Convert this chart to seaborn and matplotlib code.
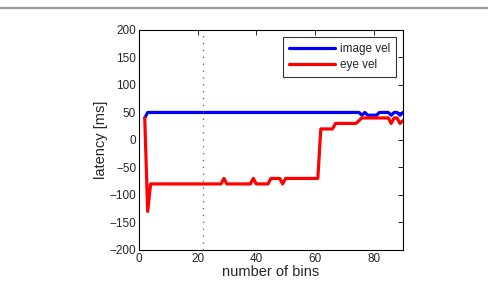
import numpy as np
import pandas as pd
import matplotlib
matplotlib.use('Agg')
import matplotlib.pyplot as plt
from matplotlib.lines import Line2D
import seaborn as sns

# Bin counts on the x axis
bins = list(range(2, 91))

# Latency of image velocity (ms)
image_vel = [40, 50, 50, 50, 50, 50, 50, 50, 50, 50,
             50, 50, 50, 50, 50, 50, 50, 50, 50, 50,
             50, 50, 50, 50, 50, 50, 50, 50, 50, 50,
             50, 50, 50, 50, 50, 50, 50, 50, 50, 50,
             50, 50, 50, 50, 50, 50, 50, 50, 50, 50,
             50, 50, 50, 50, 50, 50, 50, 50, 50, 50,
             50, 50, 50, 50, 50, 50, 50, 50, 50, 50,
             50, 50, 50, 50, 45, 50, 45, 45, 45, 45,
             50, 50, 50, 50, 45, 50, 50, 45, 50]

# Latency of eye velocity (ms)
eye_vel = [40, -130, -80, -80, -80, -80, -80, -80, -80, -80,
           -80, -80, -80, -80, -80, -80, -80, -80, -80, -80,
           -80, -80, -80, -80, -80, -80, -80, -70, -80, -80,
           -80, -80, -80, -80, -80, -80, -80, -70, -80, -80,
           -80, -80, -80, -70, -70, -70, -70, -80, -70, -70,
           -70, -70, -70, -70, -70, -70, -70, -70, -70, -70,
           20, 20, 20, 20, 20, 30, 30, 30, 30, 30,
           30, 30, 30, 35, 40, 40, 40, 40, 40, 40,
           40, 40, 40, 40, 30, 40, 40, 30, 35]

marker_bin = 22

df = pd.DataFrame({
    'bins': bins * 2,
    'latency': image_vel + eye_vel,
    'signal': ['image vel'] * len(bins) + ['eye vel'] * len(bins),
})

sns.set_theme(style='white')
plt.rcParams['font.family'] = ['Liberation Sans', 'DejaVu Sans']
plt.rcParams['xtick.direction'] = 'in'
plt.rcParams['ytick.direction'] = 'in'

fig = plt.figure(figsize=(4.89, 2.94), dpi=100)
ax = fig.add_axes([0.284, 0.150, 0.540, 0.748])

sns.lineplot(data=df, x='bins', y='latency', hue='signal',
             palette={'image vel': '#0000ff', 'eye vel': '#ff0000'},
             linewidth=2.3, ax=ax)
ax.axvline(marker_bin, color='#555555', linestyle=(0, (1, 4.5)), linewidth=0.9)

ax.set_xlim(0, 90)
ax.set_ylim(-200, 200)
ax.set_xticks([0, 20, 40, 60, 80])
ax.set_yticks(np.arange(-200, 201, 50))
ax.tick_params(axis='both', which='both', top=True, right=True,
               labelsize=8.5, length=3.5, width=0.6, color='black', pad=2)
for s in ax.spines.values():
    s.set_color('black')
    s.set_linewidth(0.8)
ax.set_xlabel('number of bins', fontsize=10.5, labelpad=0)
ax.set_ylabel('latency [ms]', fontsize=10.5, labelpad=1)

leg = ax.legend(loc='upper right', fontsize=8.5, frameon=True, fancybox=False,
                handlelength=3.9, handletextpad=0.45, borderpad=0.5,
                labelspacing=0.4, borderaxespad=0.58)
leg.get_frame().set_edgecolor('black')
leg.get_frame().set_linewidth(0.8)
for h in leg.legend_handles:
    h.set_linewidth(2.3)

# gray rule across the top of the page
fig.add_artist(Line2D([0, 1], [0.972, 0.972], color='#9a9a9a', linewidth=1.6))

fig.savefig('out.png', dpi=100)
